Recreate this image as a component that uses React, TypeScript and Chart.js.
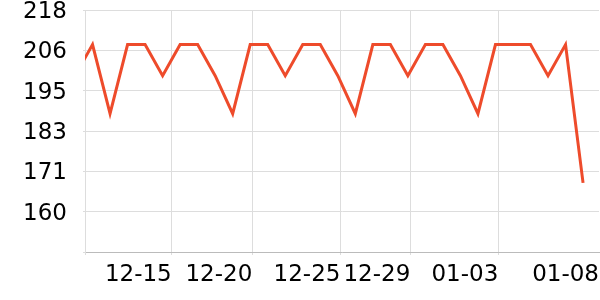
import React, { useEffect, useRef } from 'react';
import { Chart, registerables } from 'chart.js';

Chart.register(...registerables);

// Daily categories (12-10 .. 01-08)
const dates: string[] = [
  '12-10', '12-11', '12-12', '12-13', '12-14', '12-15', '12-16', '12-17', '12-18', '12-19',
  '12-20', '12-21', '12-22', '12-23', '12-24', '12-25', '12-26', '12-27', '12-28', '12-29',
  '12-30', '12-31', '01-01', '01-02', '01-03', '01-04', '01-05', '01-06', '01-07', '01-08',
];

// Series values
const values: number[] = [
  199, 208, 188, 208, 208, 199, 208, 208, 199, 188,
  208, 208, 199, 208, 208, 199, 188, 208, 208, 199,
  208, 208, 199, 188, 208, 208, 208, 199, 208, 168,
];

// X tick labels and where they sit (in category-index units)
const xTickLabels: string[] = ['12-15', '12-20', '12-25', '12-29', '01-03', '01-08'];
const xTickPositions: number[] = [5.52, 10.12, 15.15, 19.14, 24.16, 29.91];
const xMin = 0.57;
const xMax = 29.91;

// Y axis range
const yMin = 148;
const yMax = 218;
const yTickCount = 7;

export default function App() {
  const ref = useRef<HTMLCanvasElement | null>(null);

  useEffect(() => {
    document.body.style.margin = '0';
    const canvas = ref.current;
    if (!canvas) return;
    const font = { family: 'DejaVu Sans', size: 23 };
    const yTicks = Array.from({ length: yTickCount }, (_, i) => yMin + (i * (yMax - yMin)) / (yTickCount - 1));
    const chart = new Chart(canvas, {
      type: 'line',
      data: {
        labels: dates,
        datasets: [
          {
            data: values.map((v, i) => ({ x: i, y: v })),
            borderColor: '#ee4b2b',
            borderWidth: 3,
            pointRadius: 0,
            tension: 0,
            fill: false,
            clip: 0,
          },
        ],
      },
      options: {
        animation: false,
        responsive: false,
        layout: { padding: { top: 10, right: 1, left: 0, bottom: 0 } },
        plugins: { legend: { display: false }, tooltip: { enabled: false } },
        scales: {
          x: {
            type: 'linear',
            min: xMin,
            max: xMax,
            afterBuildTicks: (s: any) => {
              s.ticks = [{ value: xMin }, ...xTickPositions.map((v) => ({ value: v }))];
            },
            afterFit: (s: any) => {
              s.height = 48;
              s.paddingLeft = 0;
              s.paddingRight = 0;
            },
            ticks: {
              align: 'end',
              autoSkip: false,
              maxRotation: 0,
              minRotation: 0,
              padding: 6,
              color: '#000',
              font,
              callback: (_v: any, i: number) => (i === 0 ? '' : xTickLabels[i - 1]),
            },
            grid: {
              color: (c: any) => (c.index === xTickPositions.length ? 'rgba(0,0,0,0)' : '#dddddd'),
              tickLength: 3,
            },
            border: { color: '#bbbbbb' },
          },
          y: {
            type: 'linear',
            min: yMin,
            max: yMax,
            afterBuildTicks: (s: any) => {
              s.ticks = yTicks.map((v) => ({ value: v }));
            },
            afterFit: (s: any) => {
              s.width = 85;
              s.paddingTop = 0;
              s.paddingBottom = 0;
            },
            ticks: {
              padding: 16,
              labelOffset: 2,
              color: '#000',
              font,
              callback: (v: any, i: number) => (i === 0 ? '' : String(Math.round(Number(v)))),
            },
            grid: { color: '#dddddd', tickLength: 2 },
            border: { color: '#dddddd' },
          },
        },
      },
    } as any);
    return () => chart.destroy();
  }, []);

  return (
    <div style={{ position: 'fixed', left: 0, top: 0, width: 600, height: 300 }}>
      <canvas ref={ref} width={600} height={300} style={{ display: 'block' }} />
    </div>
  );
}
